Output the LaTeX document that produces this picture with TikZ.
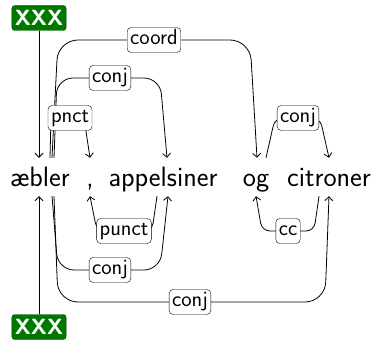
\documentclass[tikz,border=0pt]{standalone}
\usepackage{fontspec}
\usetikzlibrary{arrows.meta}
\definecolor{xfill}{RGB}{0,120,0}
\definecolor{xdraw}{RGB}{0,70,0}
\tikzset{
  word/.style={inner sep=0pt, text height=28pt, text depth=10pt, font=\sffamily\fontsize{28}{30}\selectfont},
  lab/.style={draw, rounded corners=4pt, fill=white, inner sep=3pt, text height=14pt, text depth=5pt, font=\sffamily\fontsize{22}{24}\selectfont},
  xxx/.style={draw=xdraw, fill=xfill, rounded corners=3pt, inner sep=3pt, text=white, text height=17pt, text depth=2pt, font=\sffamily\bfseries\fontsize{22}{24}\selectfont},
  edge/.style={draw, line width=0.8pt, -{Straight Barb[length=4pt,width=8pt]}},
}
\begin{document}
\begin{tikzpicture}[x=1pt,y=-1pt]
\useasboundingbox (0,0) rectangle (380,342);
% words
\node[word, anchor=base] (w1) at (40,186) {æbler};
\node[word, anchor=base] (w2) at (90,186) {,};
\node[word, anchor=base] (w3) at (163,186) {appelsiner};
\node[word, anchor=base] (w4) at (256,186) {og};
\node[word, anchor=base] (w5) at (329,186) {citroner};
% root markers
\node[xxx] (x1) at (39,18) {XXX};
\node[xxx] (x2) at (39,327) {XXX};
% label positions
\coordinate (p1) at (154,40);
\coordinate (p2) at (110,78);
\coordinate (p3) at (70,118);
\coordinate (p4) at (124,231);
\coordinate (p5) at (110,270);
\coordinate (p6) at (190,302);
\coordinate (p7) at (298,118);
\coordinate (p8) at (288,231);
% edges
\draw[edge] (x1.south) -- (x1.south |- w1.north);
\draw[edge] (x2.north) -- (x2.north |- w1.south);
\draw[edge, rounded corners=20pt] ([xshift=12pt]w1.north) -- (58,40) -- (250,40) -- ([xshift=1pt]w4.north);
\draw[edge, rounded corners=16pt] ([xshift=14pt]w1.north) -- (57,78) -- (160,78) -- ([xshift=4pt]w3.north);
\draw[edge, rounded corners=6pt] ([xshift=10pt]w1.north) -- (51,118) -- (84,118) -- ([xshift=0pt]w2.north);
\draw[edge, rounded corners=8pt] ([xshift=-6pt]w3.south) -- (152,231) -- (97,231) -- (w2.south);
\draw[edge, rounded corners=16pt] ([xshift=12pt]w1.south) -- (58,270) -- (160,270) -- ([xshift=5pt]w3.south);
\draw[edge, rounded corners=20pt] ([xshift=14pt]w1.south) -- (58,302) -- (325,302) -- (w5.south);
\draw[edge, rounded corners=8pt] ([xshift=10pt]w4.north) -- (275,118) -- (320,118) -- (w5.north);
\draw[edge, rounded corners=8pt] ([xshift=-10pt]w5.south) -- (314,231) -- (262,231) -- (w4.south);
% labels
\node[lab] (l1) at (p1) {coord};
\node[lab] (l2) at (p2) {conj};
\node[lab] (l3) at (p3) {pnct};
\node[lab] (l4) at (p4) {punct};
\node[lab] (l5) at (p5) {conj};
\node[lab] (l6) at (p6) {conj};
\node[lab] (l7) at (p7) {conj};
\node[lab] (l8) at (p8) {cc};
\end{tikzpicture}
\end{document}
